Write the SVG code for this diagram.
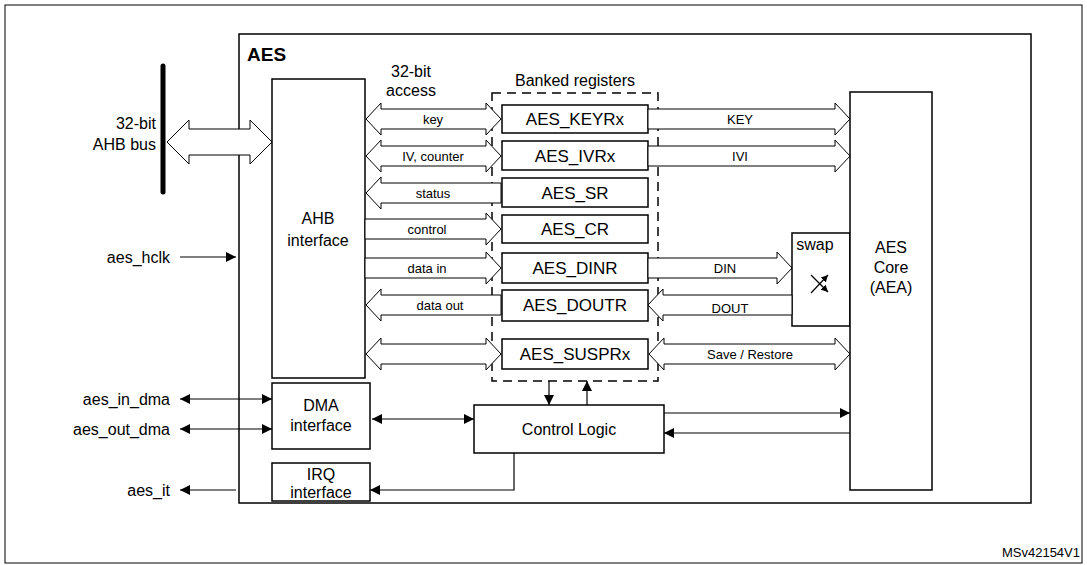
<svg xmlns="http://www.w3.org/2000/svg" width="1087" height="565" viewBox="0 0 1087 565">
<style>
text{font-family:"Liberation Sans",Arial,sans-serif;fill:#000}
.box{fill:#fff;stroke:#000;stroke-width:1.5}
.fat{fill:#fff;stroke:#000;stroke-width:1}
.ln{fill:none;stroke:#000;stroke-width:1.2}
.s{font-size:13px}
.m{font-size:16px}
.r{font-size:17px}
</style>
<defs>
<marker id="ah" viewBox="0 0 10 10" refX="10" refY="5" markerWidth="10" markerHeight="10" markerUnits="userSpaceOnUse" orient="auto-start-reverse"><path d="M0,0L10,5L0,10z" fill="#000"/></marker>
<marker id="sm" viewBox="0 0 10 10" refX="10" refY="5" markerWidth="7" markerHeight="7" markerUnits="userSpaceOnUse" orient="auto"><path d="M0,0L10,5L0,10z" fill="#000"/></marker>
</defs>
<rect x="5" y="5" width="1077" height="558" fill="#fff" stroke="#000" stroke-width="1"/>
<g id="aes"><rect x="239" y="34" width="792" height="469" class="box" stroke-width="2"/><text x="247" y="61" font-size="19" font-weight="bold">AES</text></g>
<g id="bus"><line x1="163" y1="66" x2="163" y2="192" stroke="#000" stroke-width="5" stroke-linecap="round"/><text x="156" y="129" class="m" text-anchor="end">32-bit</text><text x="156" y="150" class="m" text-anchor="end">AHB bus</text></g>
<g id="ahb"><rect x="272" y="79" width="93" height="299" class="box"/><text x="318" y="224" class="m" text-anchor="middle">AHB</text><text x="318" y="246" class="m" text-anchor="middle">interface</text></g>
<g id="banked"><rect x="492" y="93" width="166" height="288" fill="none" stroke="#000" stroke-width="1.5" stroke-dasharray="9,6"/><text x="575" y="86" class="m" text-anchor="middle">Banked registers</text><text x="411" y="77" class="m" text-anchor="middle">32-bit</text><text x="411" y="96" class="m" text-anchor="middle">access</text></g>
<g id="keyr"><rect x="502" y="105" width="146" height="28" class="box"/><text x="575" y="125" class="r" text-anchor="middle">AES_KEYRx</text></g>
<g id="ivr"><rect x="502" y="141" width="146" height="29" class="box"/><text x="575" y="162" class="r" text-anchor="middle">AES_IVRx</text></g>
<g id="sr"><rect x="502" y="178" width="146" height="29" class="box"/><text x="575" y="199" class="r" text-anchor="middle">AES_SR</text></g>
<g id="cr"><rect x="502" y="215" width="146" height="28" class="box"/><text x="575" y="235" class="r" text-anchor="middle">AES_CR</text></g>
<g id="dinr"><rect x="502" y="253" width="146" height="30" class="box"/><text x="575" y="274" class="r" text-anchor="middle">AES_DINR</text></g>
<g id="doutr"><rect x="502" y="290" width="146" height="31" class="box"/><text x="575" y="311" class="r" text-anchor="middle">AES_DOUTR</text></g>
<g id="suspr"><rect x="502" y="339" width="146" height="30" class="box"/><text x="575" y="360" class="r" text-anchor="middle">AES_SUSPRx</text></g>
<g id="swap"><rect x="792" y="233" width="58" height="93" class="box"/><text x="815" y="250" class="m" text-anchor="middle">swap</text>
<line x1="811" y1="275" x2="828" y2="292" class="ln" marker-end="url(#sm)"/><line x1="811" y1="293" x2="828" y2="275" class="ln" marker-end="url(#sm)"/></g>
<g id="core"><rect x="850" y="92" width="82" height="398" class="box"/><text x="891" y="253" class="m" text-anchor="middle">AES</text><text x="891" y="273" class="m" text-anchor="middle">Core</text><text x="891" y="293" class="m" text-anchor="middle">(AEA)</text></g>
<g id="ctrl"><rect x="474" y="405" width="190" height="48" class="box"/><text x="569" y="435" class="m" text-anchor="middle">Control Logic</text></g>
<g id="dma"><rect x="272" y="383" width="98" height="66" class="box"/><text x="321" y="411" class="m" text-anchor="middle">DMA</text><text x="321" y="431" class="m" text-anchor="middle">interface</text></g>
<g id="irq"><rect x="272" y="463" width="98" height="38" class="box"/><text x="321" y="480" class="m" text-anchor="middle">IRQ</text><text x="321" y="498" class="m" text-anchor="middle">interface</text></g>
<g id="labels">
<text x="170" y="263" class="m" text-anchor="end">aes_hclk</text>
<text x="170" y="405" class="m" text-anchor="end">aes_in_dma</text>
<text x="170" y="435" class="m" text-anchor="end">aes_out_dma</text>
<text x="170" y="496" class="m" text-anchor="end">aes_it</text>
<text x="1080" y="557" font-size="13" text-anchor="end">MSv42154V1</text>
</g>
<g id="connectors">
<polygon class="fat" points="167,142 189,120 189,129 250,129 250,120 272,142 250,164 250,155 189,155 189,164"/>
<polygon class="fat" points="366,119 381,103 381,109 486,109 486,103 501,119 486,135 486,129 381,129 381,135"/>
<polygon class="fat" points="366,156 381,140 381,146 486,146 486,140 501,156 486,172 486,166 381,166 381,172"/>
<polygon class="fat" points="501,183 381,183 381,177 366,193 381,209 381,203 501,203"/>
<polygon class="fat" points="365,219 486,219 486,213 501,229 486,245 486,239 365,239"/>
<polygon class="fat" points="365,258 486,258 486,252 501,268 486,284 486,278 365,278"/>
<polygon class="fat" points="501,295 381,295 381,289 366,305 381,321 381,315 501,315"/>
<polygon class="fat" points="366,354 381,338 381,344 486,344 486,338 501,354 486,370 486,364 381,364 381,370"/>
<polygon class="fat" points="648,109 835,109 835,103 850,119 835,135 835,129 648,129"/>
<polygon class="fat" points="648,146 835,146 835,140 850,156 835,172 835,166 648,166"/>
<polygon class="fat" points="648,258 777,258 777,252 792,268 777,284 777,278 648,278"/>
<polygon class="fat" points="792,295 663,295 663,289 648,305 663,321 663,315 792,315"/>
<polygon class="fat" points="649,354 664,338 664,344 835,344 835,338 850,354 835,370 835,364 664,364 664,370"/>
<text x="433" y="124" class="s" text-anchor="middle">key</text>
<text x="433" y="161" class="s" text-anchor="middle">IV, counter</text>
<text x="433" y="198" class="s" text-anchor="middle">status</text>
<text x="427" y="234" class="s" text-anchor="middle">control</text>
<text x="427" y="273" class="s" text-anchor="middle">data in</text>
<text x="440" y="310" class="s" text-anchor="middle">data out</text>
<text x="740" y="124" class="s" text-anchor="middle">KEY</text>
<text x="740" y="161" class="s" text-anchor="middle">IVI</text>
<text x="725" y="273" class="s" text-anchor="middle">DIN</text>
<text x="730" y="313" class="s" text-anchor="middle">DOUT</text>
<text x="750" y="359" class="s" text-anchor="middle">Save / Restore</text>
<line x1="180" y1="257" x2="236" y2="257" class="ln" marker-end="url(#ah)"/>
<line x1="180" y1="399" x2="272" y2="399" class="ln" marker-start="url(#ah)" marker-end="url(#ah)"/>
<line x1="180" y1="429" x2="272" y2="429" class="ln" marker-start="url(#ah)" marker-end="url(#ah)"/>
<line x1="372" y1="419" x2="474" y2="419" class="ln" marker-start="url(#ah)" marker-end="url(#ah)"/>
<line x1="549" y1="381" x2="549" y2="405" class="ln" marker-end="url(#ah)"/>
<line x1="587" y1="405" x2="587" y2="381" class="ln" marker-end="url(#ah)"/>
<line x1="664" y1="413" x2="850" y2="413" class="ln" marker-end="url(#ah)"/>
<line x1="850" y1="433" x2="664" y2="433" class="ln" marker-end="url(#ah)"/>
<polyline points="514,453 514,490 370,490" class="ln" marker-end="url(#ah)"/>
<line x1="236" y1="490" x2="180" y2="490" class="ln" marker-end="url(#ah)"/>
</g>
</svg>
